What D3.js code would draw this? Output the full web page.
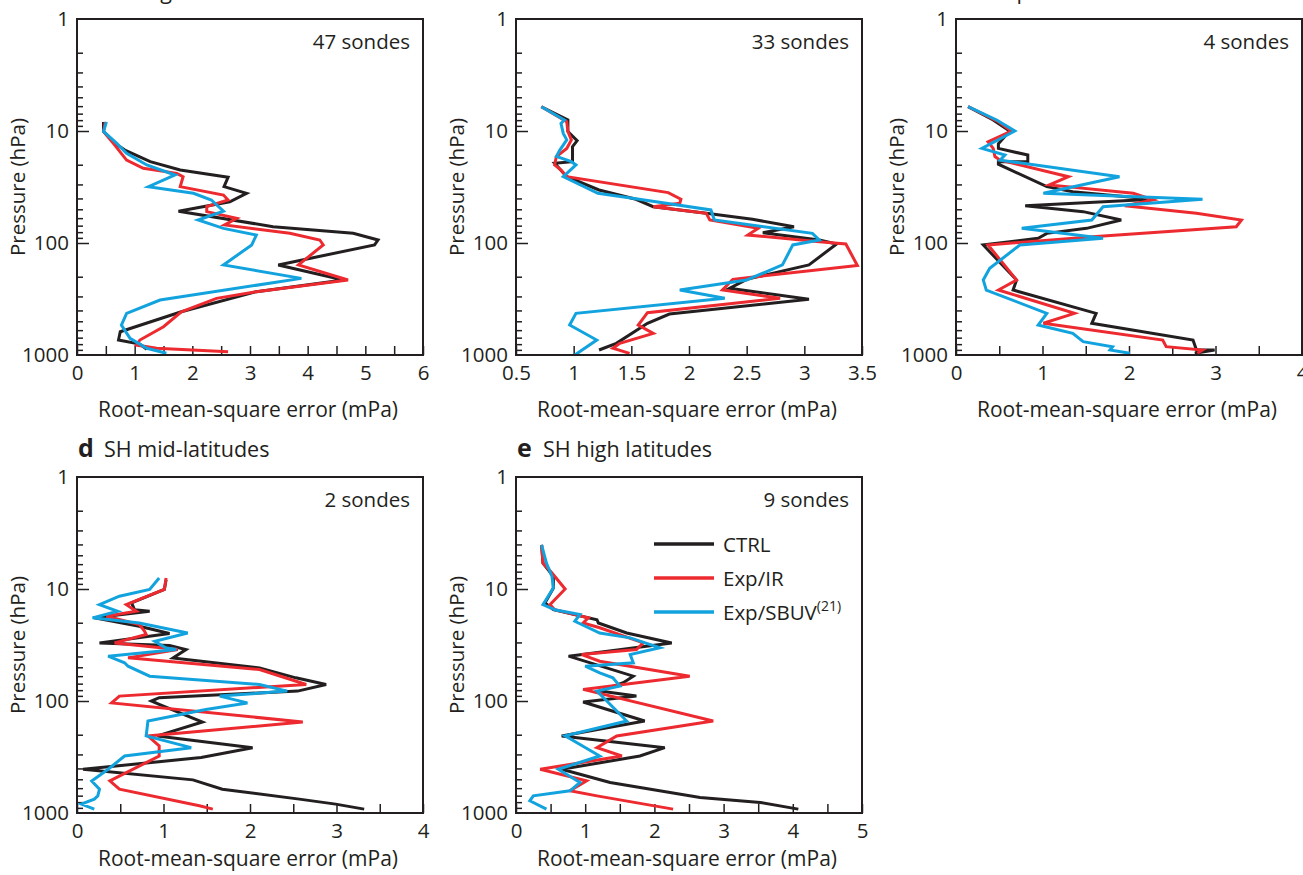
<!DOCTYPE html>
<html>
<head>
<meta charset="utf-8">
<script src="https://cdn.jsdelivr.net/npm/d3@7"></script>
<style>
  body { margin: 0; background: #fff; }
  svg { display: block; }
  text { font-family: "Open Sans", "Noto Sans", sans-serif; fill: #231f20; }
</style>
</head>
<body>
<svg id="chart" width="1303" height="875"></svg>
<script>
// Ozonesonde comparison: RMS error profiles, [rms (mPa), pressure (hPa)]

// a  NH high latitudes
const aCTRL = [[0.46,8.3],[0.46,10.1],[0.66,12.9],[0.83,14.8],[1.27,18.8],[1.79,22.3],[2.62,25.9],[2.55,31.4],[2.94,36],[2.65,42.8],[1.76,52],[3.40,71.5],[4.79,82],[5.22,94],[5.16,104],[3.49,157],[4.62,214],[3.11,272],[1.81,411],[0.75,620],[0.72,735],[1.09,800],[1.21,890]];
const aIR   = [[0.49,8.3],[0.46,10.1],[0.63,12.9],[0.86,18.2],[1.15,21.5],[1.73,23.9],[1.84,25.6],[1.79,31.4],[2.54,37.3],[2.62,41.3],[2.25,47.4],[2.25,52.5],[2.77,60.2],[2.56,69],[3.69,82],[4.21,94],[4.27,104],[3.84,157],[4.70,214],[3.11,272],[2.42,312],[1.81,411],[1.50,559],[1.09,735],[1.03,815],[1.38,871],[2.62,934]];
const aSBUV = [[0.51,8.3],[0.46,10.1],[0.69,12.9],[0.86,15.8],[1.21,20.1],[1.70,24.7],[1.24,31.4],[2.02,36],[2.33,41.3],[2.54,52],[2.10,62.3],[2.54,74],[3.11,84.9],[3.03,104],[2.54,157],[3.89,207],[1.44,323],[0.86,425],[0.77,540],[0.92,710],[1.21,871],[1.55,966]];

// b  NH mid-latitudes
const bCTRL = [[0.72,6.07],[0.95,7.97],[0.95,10.1],[1.03,12.2],[0.99,13.8],[0.99,18.8],[0.835,19.4],[0.94,25.6],[1.22,33.6],[1.54,40.7],[1.69,47.4],[2.15,54.3],[2.55,61.5],[2.91,71.5],[2.64,80.9],[3.13,94],[3.28,102],[3.04,157],[2.50,211],[2.35,254],[3.04,318],[1.83,431],[1.64,521],[1.37,787],[1.22,902]];
const bIR   = [[0.72,6.07],[0.94,8.26],[0.95,10.1],[0.98,12.0],[0.94,14.3],[0.85,16.9],[0.835,20.1],[0.89,22.3],[0.94,25.6],[1.82,35.5],[1.93,40.7],[1.92,44.2],[1.69,47.4],[2.15,54.3],[2.18,62.3],[2.60,74],[2.51,84.9],[3.13,97.3],[3.36,102],[3.46,159],[2.38,211],[2.29,263],[2.79,312],[1.64,419],[1.56,540],[1.69,641],[1.40,787],[1.34,871],[1.485,966]];
const bSBUV = [[0.72,6.07],[0.92,7.97],[0.89,8.55],[0.91,10.5],[0.94,12.0],[0.88,14.8],[0.85,16.9],[0.98,18.8],[1.02,20.1],[0.91,25.6],[1.21,36],[1.51,39.9],[2.19,50.7],[2.22,62.3],[3.07,82],[3.13,94],[2.90,104],[2.81,157],[2.50,214],[1.92,263],[2.31,312],[1.02,425],[0.965,540],[1.20,735],[1.01,1000]];

// c  Tropics
const cCTRL = [[0.14,6.07],[0.43,7.97],[0.62,10],[0.49,13],[0.49,14.3],[0.83,16.4],[0.83,18.8],[0.49,18.8],[0.49,19.8],[1.05,31.4],[1.35,34.8],[2.28,40.7],[0.80,46.4],[1.47,52.5],[1.91,62.3],[1.51,74],[1.05,82],[0.95,90.8],[0.315,104],[0.70,214],[0.66,263],[1.62,425],[1.57,521],[2.74,735],[2.78,902],[2.99,902],[2.76,966]];
const cIR   = [[0.14,6.07],[0.49,8.26],[0.64,10],[0.37,12.5],[0.43,14.3],[0.45,16.9],[0.51,18.2],[1.30,25.6],[1.08,30.3],[2.05,36],[2.28,41.3],[1.95,46.4],[2.78,54.3],[3.30,62.3],[3.24,71.5],[1.58,87.8],[0.37,104],[0.70,214],[0.49,263],[1.37,425],[1.01,521],[2.39,735],[2.43,843],[2.85,902],[2.79,966]];
const cSBUV = [[0.14,6.07],[0.47,7.97],[0.68,10],[0.30,14.3],[0.565,16.4],[0.51,18.2],[1.89,25.6],[1.01,36],[2.85,40.7],[1.70,47.4],[1.57,62.3],[0.76,74],[1.70,90.8],[0.74,104],[0.39,168],[0.315,214],[0.35,263],[1.05,425],[0.95,540],[1.35,641],[1.47,760],[1.81,843],[1.78,902],[2.01,966]];

// d  SH mid-latitudes
const dCTRL = [[1.03,8.26],[1.01,10.1],[0.63,13.3],[0.665,15.3],[0.84,15.8],[0.20,18.1],[0.72,21.5],[1.07,25],[0.26,30.3],[1.07,32],[1.26,34.7],[1.11,41.2],[2.11,50.6],[2.53,62.1],[2.88,71.2],[2.55,81.6],[0.95,93.5],[0.86,100],[0.95,107],[1.45,154],[0.93,205],[2.03,261],[1.435,320],[0.07,407],[1.34,506],[1.68,613],[2.57,752],[2.99,833],[3.32,923]];
const dIR   = [[1.03,7.98],[1.01,10.1],[0.57,13.8],[0.685,15.8],[0.34,17.5],[0.72,20.8],[0.78,23.8],[0.80,25.5],[0.435,30.3],[1.165,34.7],[0.59,41.2],[2.11,52.3],[2.65,71.2],[0.49,90.4],[0.40,104],[2.61,154],[0.82,205],[0.95,252],[0.95,310],[0.38,517],[0.49,613],[1.415,863],[1.57,923]];
const dSBUV = [[0.95,7.98],[0.84,10.1],[0.49,11.6],[0.26,13.8],[0.47,15.8],[0.18,18.1],[0.72,20.1],[1.28,24.7],[0.90,29.3],[1.03,33.6],[1.15,34.7],[0.36,39.8],[0.55,45.6],[0.59,48.9],[0.84,60],[2.11,71.2],[2.43,81.6],[1.65,90.4],[1.97,104],[1.49,119],[0.82,151],[0.80,205],[1.32,261],[0.55,310],[0.36,407],[0.17,517],[0.26,613],[0.24,703],[0.20,752],[0.05,833],[0.20,923]];

// e  SH high latitudes
const eCTRL = [[0.37,4.03],[0.39,5.87],[0.54,7.72],[0.54,9.8],[0.42,13.3],[0.54,15.3],[1.17,18.8],[1.19,20.1],[1.60,24.7],[2.25,30.3],[0.76,39.8],[1.695,60],[1.55,68.7],[1.21,81.6],[1.74,90.4],[0.97,102],[1.86,151],[0.66,205],[2.15,261],[1.79,310],[0.66,407],[1.36,534],[2.66,727],[3.53,805],[4.08,923]];
const eIR   = [[0.37,4.03],[0.39,5.87],[0.52,7.21],[0.71,10],[0.49,13.8],[0.56,15.3],[1.045,18.1],[0.97,20.1],[1.21,22.2],[1.84,30.3],[1.74,34.7],[0.95,38.5],[1.21,44.1],[2.51,60],[0.97,78.8],[2.85,151],[1.455,205],[1.17,261],[1.53,310],[0.35,407],[1.02,517],[0.78,634],[1.17,703],[2.27,923]];
const eSBUV = [[0.37,4.03],[0.44,5.87],[0.52,7.72],[0.54,9.8],[0.39,13.8],[0.56,15.3],[0.925,16.9],[0.85,19.4],[1.21,24.7],[1.65,27.3],[2.08,33.5],[1.65,38.5],[1.695,45.6],[1.0,48.9],[1.21,56],[1.40,62.1],[1.50,73.6],[1.17,81.6],[1.60,151],[0.71,205],[1.21,310],[0.61,407],[0.925,534],[0.78,634],[0.25,703],[0.20,778],[0.44,923]];

// Axis tick labels per panel
const aXLabels = [0, 1, 2, 3, 4, 5, 6];
const bXLabels = [0.5, 1, 1.5, 2, 2.5, 3, 3.5];
const cXLabels = [0, 1, 2, 3, 4];
const dXLabels = [0, 1, 2, 3, 4];
const eXLabels = [0, 1, 2, 3, 4, 5];
const pressureLabels = [1, 10, 100, 1000];

const panelLetters = ["a", "b", "c", "d", "e"];
const panelNames = ["NH high latitudes", "NH mid-latitudes", "Tropics", "SH mid-latitudes", "SH high latitudes"];
const sondeCounts = [47, 33, 4, 2, 9];
const seriesNames = ["CTRL", "Exp/IR", "Exp/SBUV"];
const seriesColors = ["#231f20", "#ec2a2f", "#12a3de"];

const panels = [
  { left: 77,  top: 19,  titleGap: 62, xLabels: aXLabels, series: [aCTRL, aIR, aSBUV] },
  { left: 516, top: 19,  titleGap: 62, xLabels: bXLabels, series: [bCTRL, bIR, bSBUV] },
  { left: 956, top: 19,  titleGap: 62, xLabels: cXLabels, series: [cCTRL, cIR, cSBUV] },
  { left: 77,  top: 477, titleGap: 53, xLabels: dXLabels, series: [dCTRL, dIR, dSBUV] },
  { left: 516, top: 477, titleGap: 53, xLabels: eXLabels, series: [eCTRL, eIR, eSBUV] }
];

const W = 346, H = 336;
const ink = "#231f20";
const svg = d3.select("#chart");
const defs = svg.append("defs");

panels.forEach((p, i) => {
  const g = svg.append("g");
  const xMin = p.xLabels[0], xMax = p.xLabels[p.xLabels.length - 1];
  const x = d3.scaleLinear().domain([xMin, xMax]).range([p.left, p.left + W]);
  const y = d3.scaleLog().domain([1, 1000]).range([p.top, p.top + H]);

  // x ticks every 0.5 mPa, pointing into the plot
  const halfSteps = d3.range(xMin, xMax + 0.001, 0.5);
  g.append("g")
    .attr("transform", `translate(0,${p.top + H})`)
    .call(d3.axisBottom(x).tickValues(halfSteps).tickSizeInner(-9).tickSizeOuter(0).tickFormat(""))
    .call(a => a.select(".domain").remove())
    .call(a => a.selectAll("line").attr("stroke", ink).attr("stroke-width", 1.5));
  g.append("g")
    .attr("transform", `translate(0,${p.top + H})`)
    .call(d3.axisBottom(x).tickValues(p.xLabels).tickSize(0).tickPadding(10).tickFormat(d => String(d)))
    .call(a => a.select(".domain").remove())
    .call(a => a.selectAll("text").attr("font-size", 20.5).attr("font-family", null).attr("fill", ink));

  // y ticks: minor at 2..9 per decade, major at decades
  const minor = [];
  [1, 10, 100].forEach(dec => { for (let k = 2; k <= 9; k++) minor.push(dec * k); });
  g.append("g")
    .attr("transform", `translate(${p.left},0)`)
    .call(d3.axisLeft(y).tickValues(minor).tickSizeInner(-6).tickSizeOuter(0).tickFormat(""))
    .call(a => a.select(".domain").remove())
    .call(a => a.selectAll("line").attr("stroke", ink).attr("stroke-width", 1.5));
  g.append("g")
    .attr("transform", `translate(${p.left},0)`)
    .call(d3.axisLeft(y).tickValues([10, 100]).tickSizeInner(-12).tickSizeOuter(0).tickFormat(""))
    .call(a => a.select(".domain").remove())
    .call(a => a.selectAll("line").attr("stroke", ink).attr("stroke-width", 1.5));
  g.append("g")
    .attr("transform", `translate(${p.left},0)`)
    .call(d3.axisLeft(y).tickValues(pressureLabels).tickSize(0).tickPadding(8).tickFormat(d => String(d)))
    .call(a => a.select(".domain").remove())
    .call(a => a.selectAll("text").attr("font-size", 20.5).attr("font-family", null).attr("fill", ink));

  // profile lines, clipped to the frame
  const clipId = "clip" + i;
  defs.append("clipPath").attr("id", clipId)
    .append("rect").attr("x", p.left).attr("y", p.top).attr("width", W).attr("height", H);
  const line = d3.line().x(d => x(d[0])).y(d => y(d[1]));
  const lines = g.append("g").attr("clip-path", `url(#${clipId})`);
  p.series.forEach((s, j) => {
    lines.append("path").datum(s)
      .attr("d", line)
      .attr("fill", "none")
      .attr("stroke", seriesColors[j])
      .attr("stroke-width", 3)
      .attr("stroke-linejoin", "miter")
      .attr("stroke-miterlimit", 4);
  });

  // frame
  g.append("rect")
    .attr("x", p.left).attr("y", p.top).attr("width", W).attr("height", H)
    .attr("fill", "none").attr("stroke", ink).attr("stroke-width", 2);

  // sonde count
  g.append("text")
    .attr("x", p.left + W - 13).attr("y", p.top + 30)
    .attr("text-anchor", "end").attr("font-size", 20.5)
    .text(`${sondeCounts[i]} sondes`);

  // axis titles
  g.append("text")
    .attr("x", p.left + W / 2 - 2).attr("y", p.top + H + p.titleGap)
    .attr("text-anchor", "middle").attr("font-size", 21)
    .text("Root-mean-square error (mPa)");
  g.append("text")
    .attr("transform", `translate(${p.left - 52},${p.top + H / 2}) rotate(-90)`)
    .attr("text-anchor", "middle").attr("font-size", 20.5)
    .text("Pressure (hPa)");

  // panel heading (top row headings sit at the very top edge of the page)
  const head = g.append("text").attr("x", p.left + 1).attr("y", p.top - 20).attr("font-size", 21.5);
  head.append("tspan").attr("font-weight", 700).attr("font-size", 25).text(panelLetters[i]);
  head.append("tspan").attr("x", p.left + 27).text(panelNames[i]);

  // legend sits inside panel e
  if (i === 4) {
    const lg = g.append("g").attr("transform", `translate(${p.left + 138},${p.top + 67})`);
    seriesNames.forEach((name, j) => {
      lg.append("line")
        .attr("x1", 0).attr("x2", 60).attr("y1", j * 34).attr("y2", j * 34)
        .attr("stroke", seriesColors[j]).attr("stroke-width", 3.5);
      const t = lg.append("text").attr("x", 69).attr("y", j * 34 + 8).attr("font-size", 20.5).text(name);
      if (j === 2) t.append("tspan").attr("font-size", 14).attr("dy", -9).text("(21)");
    });
  }
});
</script>
</body>
</html>
